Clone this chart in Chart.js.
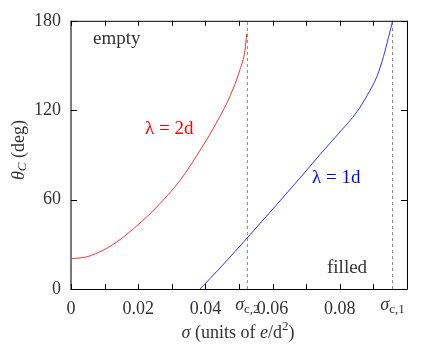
<!DOCTYPE html>
<html>
<head>
<meta charset="utf-8">
<script src="https://cdn.jsdelivr.net/npm/chart.js@4"></script>
<style>
  html, body { margin: 0; padding: 0; background: #fff; }
  #wrap { width: 436px; height: 360px; }
</style>
</head>
<body>
<div id="wrap"><canvas id="myChart" width="436" height="360"></canvas></div>
<script>
// data
const sigma2d = [0, 0.0047, 0.0099, 0.0146, 0.0199, 0.0255, 0.0325, 0.0384, 0.0424, 0.0474, 0.0503, 0.0518, 0.0523];
const theta2d = [20.3, 21.6, 26.4, 33.2, 43, 55, 73, 93, 108, 129.8, 147.3, 160.4, 171.5];
const sigma1d = [0.0384, 0.0444, 0.0524, 0.0682, 0.0742, 0.0801, 0.0851, 0.0881, 0.0911, 0.093, 0.0945, 0.0955, 0.0957];
const theta1d = [0, 14.2, 34.2, 74.6, 90.5, 105.5, 118.9, 129.8, 142.9, 156, 169, 177.8, 180];
const sigmaC2 = 0.0525;
const sigmaC1 = 0.0957;
const xTicks = [0, 0.01, 0.02, 0.03, 0.04, 0.05, 0.06, 0.07, 0.08, 0.09, 0.1];
const xTickLabels = ['0', '', '0.02', '', '0.04', '', '0.06', '', '0.08', '', ''];
const yTicks = [0, 60, 120, 180];

const FONT = "'Liberation Serif', 'DejaVu Serif', serif";
const pts = (xs, ys) => xs.map((x, i) => ({ x: x, y: ys[i] }));

const decorations = {
    id: 'decorations',
    afterDraw(chart) {
        const c = chart.ctx;
        const a = chart.chartArea;
        const xs = chart.scales.x, ys = chart.scales.y;
        c.save();
        // frame
        c.strokeStyle = '#000';
        c.lineWidth = 1;
        c.beginPath();
        c.moveTo(a.left, a.top + 0.5); c.lineTo(a.right + 0.5, a.top + 0.5);
        c.lineTo(a.right + 0.5, a.bottom + 0.5); c.lineTo(a.left, a.bottom + 0.5);
        c.stroke();
        c.strokeStyle = '#777';
        c.lineWidth = 2;
        c.beginPath();
        c.moveTo(a.left, a.top); c.lineTo(a.left, a.bottom + 1);
        c.stroke();
        // inward ticks
        c.strokeStyle = '#000';
        c.lineWidth = 1;
        c.beginPath();
        xTicks.forEach(v => {
            const px = Math.round(xs.getPixelForValue(v)) + 0.5;
            c.moveTo(px, a.bottom); c.lineTo(px, a.bottom - 5);
            c.moveTo(px, a.top); c.lineTo(px, a.top + 5);
        });
        yTicks.forEach(v => {
            const py = Math.round(ys.getPixelForValue(v)) + 0.5;
            c.moveTo(a.left, py); c.lineTo(a.left + 6, py);
            c.moveTo(a.right, py); c.lineTo(a.right - 6, py);
        });
        c.stroke();

        c.fillStyle = '#333';
        c.textBaseline = 'middle';
        // sigma_c labels on the x axis
        const sigLabel = (v, sub) => {
            const px = xs.getPixelForValue(v);
            c.font = 'italic 18px ' + FONT;
            const w1 = c.measureText('σ').width;
            c.font = '13px ' + FONT;
            const w2 = c.measureText(sub).width;
            let x0 = px - (w1 + w2) / 2;
            c.textAlign = 'left';
            c.font = 'italic 18px ' + FONT;
            c.fillText('σ', x0, 305);
            c.font = '13px ' + FONT;
            c.fillText(sub, x0 + w1, 310);
        };
        sigLabel(sigmaC2, 'c,2');
        sigLabel(sigmaC1, 'c,1');

        // x title
        const parts = [
            ['italic 18px ', 'σ', 0],
            ['18px ', ' (units of ', 0],
            ['italic 18px ', 'e', 0],
            ['18px ', '/d', 0],
            ['13px ', '2', -6],
            ['18px ', ')', 0]
        ];
        let tw = 0;
        parts.forEach(p => { c.font = p[0] + FONT; tw += c.measureText(p[1]).width; });
        let tx = 238 - tw / 2;
        c.textAlign = 'left';
        parts.forEach(p => {
            c.font = p[0] + FONT;
            c.fillText(p[1], tx, 333 + p[2]);
            tx += c.measureText(p[1]).width;
        });

        // y title (rotated)
        c.save();
        c.translate(19, 150);
        c.rotate(-Math.PI / 2);
        const yparts = [
            ['italic 18px ', 'θ', 0],
            ['italic 13px ', 'C', 4],
            ['18px ', ' (deg)', 0]
        ];
        tw = 0;
        yparts.forEach(p => { c.font = p[0] + FONT; tw += c.measureText(p[1]).width; });
        tx = -tw / 2;
        yparts.forEach(p => {
            c.font = p[0] + FONT;
            c.fillText(p[1], tx, p[2]);
            tx += c.measureText(p[1]).width;
        });
        c.restore();

        // annotations
        c.font = '19px ' + FONT;
        c.textAlign = 'left';
        c.fillStyle = '#333';
        c.fillText('empty', 93, 39);
        c.fillText('filled', 327, 268);
        c.fillStyle = '#ff0000';
        c.fillText('λ = 2d', 145, 129);
        c.fillStyle = '#0000ff';
        c.fillText('λ = 1d', 312, 178);
        c.restore();
    }
};

function drawChart() {
    const ctx = document.getElementById('myChart').getContext('2d');
    new Chart(ctx, {
        type: 'scatter',
        data: {
            datasets: [
                {
                    label: 'λ = 2d',
                    data: pts(sigma2d, theta2d),
                    showLine: true,
                    borderColor: '#ff3030',
                    borderWidth: 1,
                    pointRadius: 0,
                    cubicInterpolationMode: 'monotone'
                },
                {
                    label: 'λ = 1d',
                    data: pts(sigma1d, theta1d),
                    showLine: true,
                    borderColor: '#3030ff',
                    borderWidth: 1,
                    pointRadius: 0,
                    cubicInterpolationMode: 'monotone'
                },
                {
                    label: 'σc,2',
                    data: [{ x: sigmaC2, y: 0 }, { x: sigmaC2, y: 180 }],
                    showLine: true,
                    borderColor: '#888',
                    borderWidth: 1,
                    borderDash: [3, 3],
                    pointRadius: 0
                },
                {
                    label: 'σc,1',
                    data: [{ x: sigmaC1, y: 0 }, { x: sigmaC1, y: 180 }],
                    showLine: true,
                    borderColor: '#888',
                    borderWidth: 1,
                    borderDash: [3, 3],
                    pointRadius: 0
                }
            ]
        },
        options: {
            responsive: false,
            animation: false,
            clip: false,
            layout: { padding: { top: 14, right: 29, left: 0, bottom: 0 } },
            plugins: { legend: { display: false }, tooltip: { enabled: false } },
            scales: {
                x: {
                    type: 'linear',
                    min: 0,
                    max: 0.1,
                    afterBuildTicks: (s) => { s.ticks = xTicks.map(v => ({ value: v })); },
                    afterFit: (s) => { s.height = 71; },
                    grid: { display: false, drawTicks: false },
                    border: { display: false },
                    ticks: {
                        autoSkip: false,
                        maxRotation: 0,
                        padding: 9,
                        color: '#333',
                        font: { family: FONT, size: 18 },
                        callback: (v) => {
                            const i = xTicks.findIndex(t => Math.abs(t - v) < 1e-9);
                            return i >= 0 ? xTickLabels[i] : '';
                        }
                    }
                },
                y: {
                    type: 'linear',
                    min: 0,
                    max: 180,
                    afterBuildTicks: (s) => { s.ticks = yTicks.map(v => ({ value: v })); },
                    afterFit: (s) => { s.width = 71; },
                    grid: { display: false, drawTicks: false },
                    border: { display: false },
                    ticks: {
                        padding: 10,
                        color: '#333',
                        font: { family: FONT, size: 18 }
                    }
                }
            }
        },
        plugins: [decorations]
    });
}

Promise.all([
    document.fonts.load("18px 'Liberation Serif'"),
    document.fonts.load("italic 18px 'Liberation Serif'")
]).catch(() => {}).then(drawChart);
</script>
</body>
</html>
